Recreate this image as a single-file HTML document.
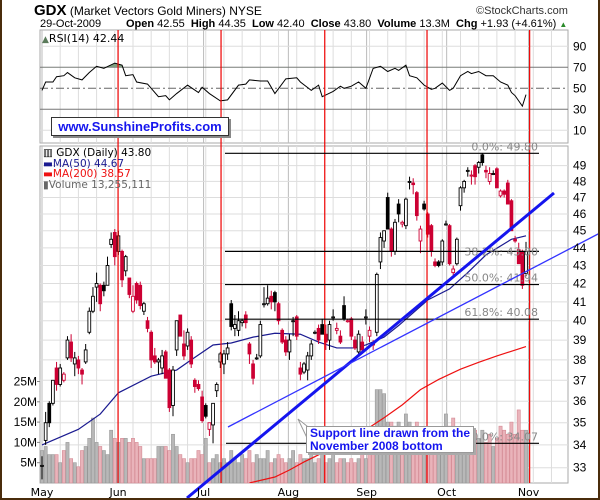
<!DOCTYPE html>
<html><head><meta charset="utf-8"><style>
html,body{margin:0;padding:0;background:#fff;}
svg{display:block;}
text{font-family:"DejaVu Sans","Liberation Sans",sans-serif;}
.ls{font-family:"Liberation Sans",sans-serif;}
</style></head><body>
<svg id="chart" width="600" height="500" viewBox="0 0 600 500" xmlns="http://www.w3.org/2000/svg">
<rect x="0" y="0" width="600" height="500" fill="#fff"/>
<g id="grid"></g>
<g id="vol"></g>
<g id="rsi"></g>
<g id="mas"></g>
<g id="candles"></g>
<g id="overlay"></g>
<g id="labels"></g>
</svg>
<script>
const opens=[33.1,34.2,35.9,35.9,37.6,36.8,37.0,38.1,38.9,37.8,38.0,37.5,37.9,39.4,40.5,41.8,41.9,41.9,41.9,44.2,44.9,43.8,43.8,42.7,42.3,40.5,42.0,41.9,40.5,40.0,39.4,38.2,37.9,37.6,38.4,37.5,35.8,38.5,40.3,38.8,38.7,39.0,37.0,36.8,36.2,35.8,34.7,34.9,36.5,37.9,37.8,38.3,40.9,39.6,39.5,39.9,40.3,38.8,37.8,38.1,38.2,40.9,40.9,41.3,41.5,40.9,39.5,39.0,38.4,40.0,40.2,37.6,37.4,37.5,38.2,39.4,39.6,39.8,39.3,39.0,40.2,39.5,39.2,40.8,40.0,40.1,39.0,38.4,38.9,40.2,39.2,38.8,39.4,43.2,44.4,47.0,45.1,43.8,46.6,45.4,45.3,48.0,47.9,47.3,44.4,46.6,46.0,45.3,43.2,43.2,43.2,45.4,45.3,42.6,43.1,46.5,47.6,48.7,48.4,49.0,48.9,49.7,48.7,48.0,48.5,48.8,47.1,47.4,47.9,46.8,44.5,43.9,43.8,42.55];
const highs=[33.5,35.5,36.0,37.0,37.9,37.8,37.4,39.2,39.3,38.4,38.2,37.6,38.8,40.7,41.8,42.6,42.0,42.1,43.5,44.9,45.1,45.0,43.9,43.6,42.3,41.9,42.1,42.1,41.0,40.2,39.5,38.6,38.1,38.5,38.5,37.6,37.7,40.0,40.3,39.5,39.6,39.2,37.1,37.0,36.5,35.9,35.0,35.9,36.9,38.4,38.5,38.9,41.1,40.3,40.5,40.1,40.5,38.9,38.0,38.3,40.0,41.8,41.9,41.6,41.6,41.0,39.6,39.2,39.3,40.2,40.3,37.9,37.9,38.4,39.0,39.5,39.8,40.1,39.8,40.0,40.6,39.9,39.5,41.3,40.1,40.2,39.2,39.5,39.2,40.6,39.7,39.0,42.6,44.9,45.0,47.3,45.2,45.7,46.9,45.6,47.0,48.3,48.2,47.4,45.3,46.8,46.1,45.4,43.4,43.3,44.5,45.6,45.4,43.0,44.6,47.7,48.1,48.9,48.7,49.1,49.3,49.8,49.0,48.9,48.7,48.9,47.5,47.5,48.1,46.9,44.7,44.3,43.9,44.35];
const lows=[32.5,34.0,34.8,35.8,36.5,36.7,36.9,38.0,37.9,37.2,37.3,36.8,37.8,39.3,40.4,41.0,40.5,41.3,41.9,44.0,43.0,43.6,41.8,42.4,41.2,40.4,40.9,40.6,40.3,39.4,37.6,37.8,37.3,37.3,37.1,35.5,35.3,38.2,39.2,38.0,38.5,37.6,36.4,36.5,35.0,35.2,34.4,34.07,36.2,37.6,37.3,38.0,39.5,39.2,39.2,39.7,39.6,37.8,36.8,38.0,38.1,40.7,40.8,40.6,40.5,39.8,38.8,38.2,38.0,39.2,39.0,37.0,37.3,37.0,38.0,39.3,38.8,39.3,38.5,38.5,40.0,39.3,38.8,40.0,39.9,39.0,38.5,38.2,38.3,39.8,38.9,38.5,39.2,42.8,44.0,45.1,43.5,43.6,45.5,45.2,45.1,47.5,47.2,45.6,43.7,46.2,44.6,43.5,42.9,42.9,43.0,45.3,43.0,42.4,43.0,46.2,47.3,48.3,47.8,47.8,48.5,49.0,48.2,47.8,48.4,47.6,47.0,47.0,46.6,45.0,44.3,43.1,41.7,42.4];
const closes=[33.1,35.0,35.0,37.0,36.8,37.6,37.3,39.0,38.1,38.1,37.6,37.3,38.5,40.5,41.3,42.0,40.9,41.6,43.0,44.5,43.5,44.7,42.2,43.5,41.4,41.3,41.1,40.8,40.9,39.6,38.0,37.9,38.0,38.2,37.1,35.7,37.5,40.0,39.2,38.2,39.4,37.8,36.7,36.6,35.1,35.3,35.0,35.9,36.8,38.3,38.3,38.6,39.7,39.8,40.0,40.0,39.9,38.3,37.1,38.1,39.8,40.9,41.2,41.0,41.0,40.0,38.9,38.4,39.0,40.0,39.2,37.3,37.8,38.2,38.8,39.4,39.0,39.3,38.9,39.8,40.2,39.6,38.9,40.1,40.0,39.2,38.6,39.3,38.5,40.2,39.5,38.8,42.5,44.6,45.0,45.1,43.8,45.5,46.0,45.5,46.9,48.0,47.8,45.9,45.1,46.3,44.8,43.8,43.0,43.0,44.4,45.4,43.1,42.8,44.5,47.6,48.0,48.7,48.4,48.3,49.2,49.2,48.6,48.5,48.5,47.6,47.4,47.2,46.6,45.0,44.4,43.1,41.9,43.8];
const volumes=[8,9,7,7,7,5,8,10,6,5,4,8,9,11,16,10,9,8,7,13,11,10,11,11,10,11,10,9,6,6,6,6,9,9,9,8,12,9,7,6,5,6,6,8,7,11,5,6,7,5,6,5,8,6,5,7,6,8,5,7,6,6,8,5,6,7,6,5,6,8,5,7,6,6,9,5,6,7,5,6,7,5,6,6,5,6,5,6,7,6,12,9,23,23,22,15,15,14,15,13,17,15,12,15,13,13,10,8,11,11,10,17,14,16,8,10,11,9,12,13,11,13,10,12,9,11,14,13,12,15,12,18,13,13];
const ma50Days=[0,10,16,21,30,37,41,47,52,58,64,71,76,81,86,89,94,98,106,112,117,122,129,133];
const ma50Vals=[34.0,34.7,35.4,36.4,37.2,37.5,38.0,38.75,38.85,39.15,39.35,39.3,38.9,38.6,38.6,38.75,39.15,39.75,41.1,41.7,42.6,43.6,44.5,44.7];
const ma200Days=[57,64,68,72,77,83,89,94,99,104,109,115,120,125,133];
const ma200Vals=[32.35,32.6,32.9,33.25,33.64,34.08,34.68,35.23,35.83,36.55,37.04,37.54,37.88,38.2,38.67];
const rsiDays=[0,1,3,4,6,7,9,11,13,15,17,20,22,23,25,26,29,32,34,35,37,40,43,44,46,49,51,54,56,57,60,62,64,67,70,71,74,76,77,80,82,83,85,87,89,91,93,95,97,98,100,101,103,105,107,108,110,112,113,115,117,118,120,122,124,126,128,129,130,132,133];
const rsiVals=[48,56,56,61,62,65,60,58,65,71,69,74,72,62,63,56,54,42,43,39,45,53,46,51,45,38,39,53,54,58,57,57,45,59,60,56,48,53,42,47,52,50,52,56,50,69,71,66,69,67,72,62,60,53,49,50,55,48,50,62,66,64,66,62,62,56,53,46,43,33,44];
const priceTicks=[33,34,35,36,37,38,39,40,41,42,43,44,45,46,47,48,49];
const volTicks=[5,10,15,20,25];
const rsiTicks=[90,70,50,30,10];
const monthNames=["May","Jun","Jul","Aug","Sep","Oct","Nov"];
const monthDays=[0,20.9,44.4,67.7,89.2,111.2,133.7];
const eventDays=[20.9,49.2,77.7,105.8,134.0];
const fibLevels=[49.80,43.80,41.94,40.08,34.07];
const fibNames=["0.0%","38.2%","50.0%","61.8%","100.0%"];

const NS="http://www.w3.org/2000/svg";
const L=40,R=568,RT=30,RB=143,MT=146,MB=483;
const X0=42,DX=484/133;
function xs(i){return X0+i*DX;}
function ys(p){return 467.7-764*Math.log(p/33);}
function yv(m){return MB-m*4.06;}
function yr(r){return 88.3-(r-50)*1.05;}
function mk(tag,attrs,parent){const e=document.createElementNS(NS,tag);for(const k in attrs)e.setAttribute(k,attrs[k]);parent.appendChild(e);return e;}
const G=id=>document.getElementById(id);
const grid=G('grid'),vol=G('vol'),rsiG=G('rsi'),mas=G('mas'),cg=G('candles'),ov=G('overlay'),lab=G('labels');

// panels
let p1=mk('rect',{x:L,y:RT,width:R-L,height:RB-RT,fill:'#fff',stroke:'#aaa'},grid);

let p2=mk('rect',{x:L,y:MT,width:R-L,height:MB-MT,fill:'#fff',stroke:'#aaa'},grid);

// vertical grid (weekly)
for(let i=0;i<=146;i+=5){const x=xs(i);if(x>R)break;
 mk('line',{x1:x,y1:RT,x2:x,y2:RB,stroke:'#ddd'},grid);mk('line',{x1:x,y1:MT,x2:x,y2:MB,stroke:'#ddd'},grid);}
monthDays.forEach((d,k)=>{const x=xs(d);
 mk('line',{x1:x,y1:RT,x2:x,y2:RB,stroke:'#bbb'},grid);mk('line',{x1:x,y1:MT,x2:x,y2:MB,stroke:'#bbb'},grid);
 const t=mk('text',{x:x,y:496,'font-size':11,'text-anchor':'middle',fill:'#000'},lab);t.textContent=monthNames[k];
 });
// price grid
priceTicks.forEach(p=>{const y=ys(p);
 mk('line',{x1:L,y1:y,x2:R,y2:y,stroke:'#ddd'},grid);
 const t=mk('text',{x:R+5,y:y+4,'font-size':12,fill:'#000',class:'ls'},lab);t.textContent=p;
 });
volTicks.forEach(v=>{const y=yv(v);
 mk('line',{x1:L-3,y1:y,x2:L,y2:y,stroke:'#888'},grid);
 const t=mk('text',{x:L-3,y:y+4,'font-size':12,'text-anchor':'end',fill:'#000',class:'ls'},lab);t.textContent=v+'M';
 });
rsiTicks.forEach(r=>{const y=yr(r);
 const dark=(r===70||r===30);
 mk('line',{x1:L,y1:y,x2:R,y2:y,stroke:dark?'#777':(r===50?'#666':'#ddd'),'stroke-dasharray':r===50?'8,3,2,3':'none'},grid);
 const t=mk('text',{x:R+5,y:y+4,'font-size':12,fill:'#000',class:'ls'},lab);t.textContent=r;
 });

// volume bars
volumes.forEach((v,i)=>{const down=i>0&&closes[i]<closes[i-1];const x=xs(i);
 const b=mk('rect',{x:x-1.6,y:yv(v),width:3.2,height:MB-yv(v),fill:down?'#e9b3ba':'#b8b8b8',stroke:down?'#d48a94':'#999','stroke-width':0.6},vol);
 });

// RSI
let pts=rsiDays.map((d,k)=>xs(d)+','+yr(rsiVals[k])).join(' ');
const cp=mk('clipPath',{id:'ab70'},rsiG);mk('rect',{x:L,y:RT,width:R-L,height:yr(70)-RT},cp);
const area=mk('polygon',{points:pts+' '+xs(rsiDays[rsiDays.length-1])+','+yr(70)+' '+xs(0)+','+yr(70),fill:'#7f9f7f','clip-path':'url(#ab70)'},rsiG);

const rl=mk('polyline',{points:pts,fill:'none',stroke:'#000','stroke-width':1},rsiG);


// MAs
const cpm=mk('clipPath',{id:'mainclip'},mas);mk('rect',{x:L,y:MT,width:R-L,height:MB-MT},cpm);
const m50=mk('polyline',{points:ma50Days.map((d,k)=>xs(d)+','+ys(ma50Vals[k])).join(' '),fill:'none',stroke:'#1a1a90','stroke-width':1.2,'clip-path':'url(#mainclip)'},mas);

const m200=mk('polyline',{points:ma200Days.map((d,k)=>xs(d)+','+ys(ma200Vals[k])).join(' '),fill:'none',stroke:'#ee1111','stroke-width':1.2,'clip-path':'url(#mainclip)'},mas);


// candles
closes.forEach((c,i)=>{const o=opens[i],h=highs[i],l=lows[i];
 const red=i>0&&c<closes[i-1];const col=red?'#cc0033':'#000';const x=xs(i);
 const g=mk('g',{},cg);
 
 mk('line',{x1:x,y1:ys(h),x2:x,y2:ys(l),stroke:col,'stroke-width':1},g);
 const top=ys(Math.max(o,c)),bot=ys(Math.min(o,c));
 mk('rect',{x:x-1.4,y:top,width:2.8,height:Math.max(1,bot-top),fill:c<o?col:'#fff',stroke:col,'stroke-width':0.9},g);});

// event lines
eventDays.forEach(d=>{const x=xs(d);const e=mk('line',{x1:x,y1:RT,x2:x,y2:MB,stroke:'#ee0000','stroke-width':1.2},ov);
 });

// fib lines
fibLevels.forEach((f,k)=>{const y=ys(f);const x1=k===4?226:225;
 const ln=mk('line',{x1:x1,y1:y,x2:539,y2:y,stroke:'#000','stroke-width':1.2},ov);
 
 const t=mk('text',{x:538,y:k===1?y+4:y-3,'font-size':11,'text-anchor':'end',fill:'#888'},ov);
 t.textContent=fibNames[k]+': '+f.toFixed(2);
 });
</script>
<svg width="0" height="0"></svg>
<script>
// trend lines & annotations (drawn over)
(function(){
const ov=document.getElementById('overlay');const NS="http://www.w3.org/2000/svg";
function mk(tag,attrs,parent){const e=document.createElementNS(NS,tag);for(const k in attrs)e.setAttribute(k,attrs[k]);parent.appendChild(e);return e;}
const t1=mk('line',{x1:187,y1:498,x2:554,y2:193,stroke:'#1515ee','stroke-width':3},ov);

const t2=mk('line',{x1:228,y1:427,x2:600,y2:233,stroke:'#3333ff','stroke-width':1.3},ov);

})();
</script>
<div style="position:absolute;left:34px;top:2px;font-family:'Liberation Sans',sans-serif;font-size:12px;white-space:nowrap;"><b style="font-size:15px;">GDX</b> (Market Vectors Gold Miners) NYSE</div>
<div style="position:absolute;left:476px;top:5px;font-family:'Liberation Sans',sans-serif;font-size:11px;color:#333;">©StockCharts.com</div>
<div style="position:absolute;left:40px;top:18px;font-family:'Liberation Sans',sans-serif;font-size:11px;white-space:nowrap;width:530px;">29-Oct-2009<span style="position:absolute;left:86px;"><b>Open</b> 42.55 &nbsp;<b>High</b> 44.35 &nbsp;<b>Low</b> 42.40 &nbsp;<b>Close</b> 43.80 &nbsp;<b>Volume</b> 13.3M &nbsp;<b>Chg</b> +1.93 (+4.61%) <span style="color:#2a8a2a;font-size:8px;">▲</span></span></div>
<div style="position:absolute;left:42px;top:32px;font-family:'DejaVu Sans',sans-serif;font-size:11px;"><span style="color:#5a7a5a;font-size:9px;">▲</span>RSI(14) 42.44</div>
<div style="position:absolute;left:51px;top:117px;width:176px;height:17px;background:#fff;border:1px solid #333;box-shadow:2px 2px 0 #888;font-family:'Liberation Sans',sans-serif;font-weight:bold;font-size:13px;color:#1515ee;line-height:17px;text-align:center;">www.SunshineProfits.com</div>
<div style="position:absolute;left:43px;top:148px;font-family:'DejaVu Sans',sans-serif;font-size:10.5px;line-height:10.5px;white-space:nowrap;">
<div style="color:#000;">▥ GDX (Daily) 43.80</div>
<div style="color:#1a1a90;">▬MA(50) 44.67</div>
<div style="color:#ee1111;">▬MA(200) 38.57</div>
<div style="color:#666;">▮Volume 13,255,111</div></div>
<svg width="600" height="500" style="position:absolute;left:0;top:0;pointer-events:none;"><polygon points="298,419 312,430 308,440" fill="#fff" stroke="#999"/></svg>
<div style="position:absolute;left:306px;top:426px;width:168px;height:27px;background:#fff;border:1px solid #999;box-shadow:2px 2px 0 #aaa;font-family:'Liberation Sans',sans-serif;font-weight:bold;font-size:12px;color:#1515ee;line-height:13px;padding-left:3px;box-sizing:border-box;">Support line drawn from the<br>November 2008 bottom</div>
<div style="position:absolute;left:0;top:0;width:600px;height:500px;box-sizing:border-box;border-left:2px solid #4a2c0c;border-right:2px solid #4a2c0c;border-bottom:2px solid #4a2c0c;pointer-events:none;"></div>
</body></html>
